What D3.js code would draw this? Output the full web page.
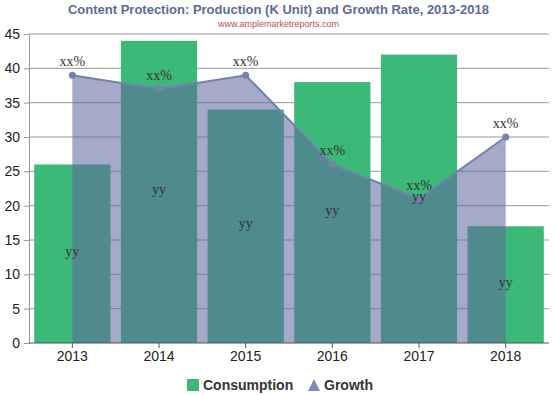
<!doctype html>
<html>
<head>
<script src="https://d3js.org/d3.v7.min.js"></script>
<style>
    body { margin: 0; background: #fff; }
    svg text { font-family: "Liberation Sans", Arial, sans-serif; }
</style>
</head>
<body>
<script>
    const years = ["2013", "2014", "2015", "2016", "2017", "2018"];
    const consumption = [26, 44, 34, 38, 42, 17];
    const growth = [39, 37, 39, 26, 21, 30];
    const growthLabels = ["xx%", "xx%", "xx%", "xx%", "xx%", "xx%"];
    const barLabels = ["yy", "yy", "yy", "yy", "yy", "yy"];
    const yTicks = [0, 5, 10, 15, 20, 25, 30, 35, 40, 45];

    const width = 557, height = 395;
    const margin = {top: 34, right: 8, bottom: 52, left: 29};

    const svg = d3.select("body").append("svg")
        .attr("width", width)
        .attr("height", height);

    const x = d3.scaleBand()
        .domain(years)
        .range([margin.left, width - margin.right])
        .paddingInner(0.12)
        .paddingOuter(0.06);

    const y = d3.scaleLinear()
        .domain([0, 45])
        .range([height - margin.bottom, margin.top]);

    const cx = d => x(d) + x.bandwidth() / 2;

    // title
    svg.append("text")
        .attr("x", width / 2).attr("y", 14)
        .attr("text-anchor", "middle")
        .style("font-size", "13px").style("font-weight", "bold")
        .attr("fill", "#5b6b96")
        .text("Content Protection: Production (K Unit) and Growth Rate, 2013-2018");
    svg.append("text")
        .attr("x", width / 2).attr("y", 27)
        .attr("text-anchor", "middle")
        .style("font-size", "9px")
        .attr("fill", "#b5504f")
        .text("www.amplemarketreports.com");

    // grid
    svg.append("g")
        .selectAll("line")
        .data(yTicks.slice(1))
        .join("line")
        .attr("x1", margin.left).attr("x2", width - margin.right)
        .attr("y1", d => y(d)).attr("y2", d => y(d))
        .attr("stroke", "#999").attr("stroke-width", 1);

    // y axis
    const yAxis = svg.append("g")
        .attr("transform", `translate(${margin.left},0)`)
        .call(d3.axisLeft(y).tickValues(yTicks).tickSize(5).tickPadding(4));
    yAxis.select(".domain").attr("stroke", "#999");
    yAxis.selectAll(".tick line").attr("stroke", "#999");
    yAxis.selectAll("text").style("font-size", "14px").attr("fill", "#222");

    // bars
    svg.append("g")
        .selectAll("rect")
        .data(consumption)
        .join("rect")
        .attr("x", (d, i) => x(years[i]))
        .attr("y", d => y(d))
        .attr("width", x.bandwidth())
        .attr("height", d => y(0) - y(d))
        .attr("fill", "#3cb878");

    // growth area + line
    const pts = growth.map((d, i) => [cx(years[i]), y(d)]);
    svg.append("path")
        .datum(pts)
        .attr("d", d3.area().x(d => d[0]).y0(y(0)).y1(d => d[1]))
        .attr("fill", "rgb(94,103,158)")
        .attr("fill-opacity", 0.56);
    svg.append("path")
        .datum(pts)
        .attr("d", d3.line())
        .attr("fill", "none")
        .attr("stroke", "#7480ad")
        .attr("stroke-width", 2);
    svg.append("g")
        .selectAll("circle")
        .data(pts)
        .join("circle")
        .attr("cx", d => d[0]).attr("cy", d => d[1]).attr("r", 3.5)
        .attr("fill", "#7480ad");

    // x axis
    const xAxis = svg.append("g")
        .attr("transform", `translate(0,${y(0)})`)
        .call(d3.axisBottom(x).tickSize(5).tickPadding(3));
    xAxis.select(".domain").attr("stroke", "#555").attr("d", `M${margin.left},0H${width - margin.right}`);
    xAxis.selectAll(".tick line").attr("stroke", "#555");
    xAxis.selectAll("text").style("font-size", "14px").attr("fill", "#222");

    // labels
    svg.append("g")
        .selectAll("text")
        .data(growth)
        .join("text")
        .attr("x", (d, i) => cx(years[i]))
        .attr("y", d => y(d) - 9)
        .attr("text-anchor", "middle")
        .style("font-family", "'Liberation Serif', serif")
        .style("font-size", "14px")
        .attr("fill", "#333")
        .text((d, i) => growthLabels[i]);
    svg.append("g")
        .selectAll("text")
        .data(consumption)
        .join("text")
        .attr("x", (d, i) => cx(years[i]))
        .attr("y", d => y(d / 2) + 2)
        .attr("text-anchor", "middle")
        .style("font-family", "'Liberation Serif', serif")
        .style("font-size", "14px")
        .attr("fill", "#333")
        .text((d, i) => barLabels[i]);

    // legend
    const lg = svg.append("g").attr("transform", "translate(187,385)");
    lg.append("rect").attr("x", 0).attr("y", -6).attr("width", 12).attr("height", 12).attr("fill", "#3cb878");
    lg.append("text").attr("x", 16).attr("y", 5)
        .style("font-size", "14px").style("font-weight", "bold").attr("fill", "#333")
        .text("Consumption");
    lg.append("path").attr("d", "M121,6L127,-6L133,6Z").attr("fill", "#7f89b5");
    lg.append("text").attr("x", 137).attr("y", 5)
        .style("font-size", "14px").style("font-weight", "bold").attr("fill", "#333")
        .text("Growth");
</script>
</body>
</html>
